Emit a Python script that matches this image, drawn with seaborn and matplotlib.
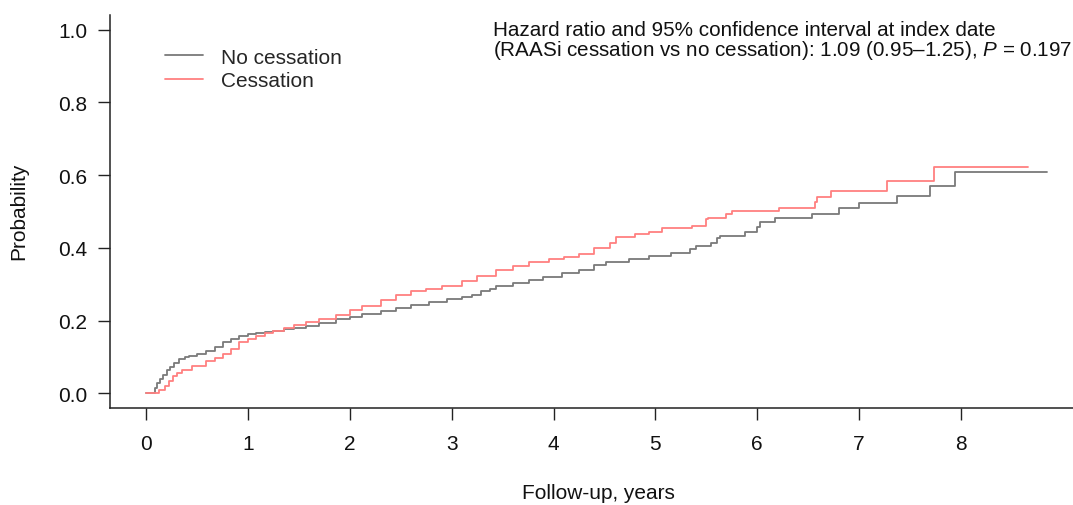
import matplotlib
matplotlib.use("Agg")
import matplotlib.pyplot as plt
import seaborn as sns
import pandas as pd
from matplotlib.lines import Line2D

# ---- data ----
no_cess_t = [0, 0.06, 0.08, 0.10, 0.13, 0.16, 0.20, 0.23, 0.27, 0.32, 0.38, 0.42, 0.50, 0.59,
             0.67, 0.75, 0.83, 0.91, 1.0, 1.08, 1.16, 1.24, 1.35, 1.45, 1.57, 1.70, 1.86, 2.0,
             2.12, 2.30, 2.45, 2.60, 2.78, 2.95, 3.10, 3.20, 3.29, 3.37, 3.43, 3.60, 3.76, 3.90,
             4.08, 4.25, 4.40, 4.51, 4.74, 4.94, 5.15, 5.34, 5.40, 5.55, 5.60, 5.63, 5.88, 6.0,
             6.03, 6.17, 6.54, 6.80, 7.0, 7.37, 7.70, 7.94, 8.85]
no_cess_p = [0, 0, 0.015, 0.027, 0.039, 0.05, 0.063, 0.072, 0.083, 0.094, 0.099, 0.102, 0.108, 0.116,
             0.127, 0.14, 0.149, 0.157, 0.162, 0.165, 0.168, 0.171, 0.176, 0.18, 0.185, 0.194, 0.204, 0.211,
             0.218, 0.226, 0.234, 0.242, 0.25, 0.258, 0.265, 0.27, 0.281, 0.288, 0.295, 0.303, 0.311, 0.320,
             0.332, 0.34, 0.352, 0.362, 0.369, 0.377, 0.385, 0.397, 0.405, 0.413, 0.427, 0.433, 0.443, 0.457,
             0.472, 0.482, 0.493, 0.51, 0.523, 0.543, 0.57, 0.609, 0.609]

cess_t = [0, 0.08, 0.12, 0.18, 0.22, 0.26, 0.30, 0.35, 0.45, 0.59, 0.67, 0.75, 0.83, 0.91, 1.0,
          1.08, 1.16, 1.24, 1.35, 1.45, 1.57, 1.70, 1.86, 2.0, 2.12, 2.30, 2.45, 2.60, 2.75, 2.90,
          3.10, 3.25, 3.43, 3.60, 3.76, 3.95, 4.10, 4.25, 4.40, 4.55, 4.61, 4.80, 4.94, 5.06, 5.36,
          5.50, 5.52, 5.69, 5.75, 6.21, 6.57, 6.59, 6.72, 7.27, 7.74, 8.66]
cess_p = [0, 0, 0.008, 0.019, 0.033, 0.047, 0.056, 0.063, 0.075, 0.088, 0.097, 0.107, 0.122, 0.14, 0.15,
          0.157, 0.165, 0.171, 0.18, 0.188, 0.196, 0.205, 0.216, 0.228, 0.24, 0.256, 0.27, 0.28, 0.288, 0.296,
          0.309, 0.322, 0.34, 0.35, 0.36, 0.368, 0.375, 0.383, 0.400, 0.412, 0.43, 0.437, 0.444, 0.454, 0.46,
          0.48, 0.483, 0.493, 0.50, 0.51, 0.526, 0.54, 0.556, 0.584, 0.622, 0.622]

groups = ["No cessation", "Cessation"]
colors = {"No cessation": "#7a7a7a", "Cessation": "#ff8080"}
x_ticks = [0, 1, 2, 3, 4, 5, 6, 7, 8]
y_ticks = [0.0, 0.2, 0.4, 0.6, 0.8, 1.0]
y_tick_labels = ["0.0", "0.2", "0.4", "0.6", "0.8", "1.0"]
x_label = "Follow-up, years"
y_label = "Probability"
annot_line1 = "Hazard ratio and 95% confidence interval at index date"
annot_line2 = "(RAASi cessation vs no cessation): 1.09 (0.95\u20131.25), $\\it{P}$ = 0.197"

df = pd.concat([
    pd.DataFrame({"t": no_cess_t, "p": no_cess_p, "group": groups[0]}),
    pd.DataFrame({"t": cess_t, "p": cess_p, "group": groups[1]}),
], ignore_index=True)

sns.set_style("ticks")
plt.rcParams["font.family"] = ["Liberation Sans", "DejaVu Sans"]
plt.rcParams["mathtext.fontset"] = "custom"
plt.rcParams["mathtext.rm"] = "Liberation Sans"
plt.rcParams["mathtext.it"] = "Liberation Sans:italic"

W, H = 1073, 506
fig = plt.figure(figsize=(W / 100, H / 100), dpi=100)
ax_left, ax_right, ax_top, ax_bot = 110.4, 1083.0, 16.0, 408.8
ax = fig.add_axes([ax_left / W, 1 - ax_bot / H, (ax_right - ax_left) / W, (ax_bot - ax_top) / H])

sns.lineplot(data=df, x="t", y="p", hue="group", palette=colors, hue_order=groups,
             estimator=None, sort=False, drawstyle="steps-post", linewidth=1.3,
             legend=False, ax=ax)

ax.set_xlim(-0.354, 9.2)
ax.set_ylim(-0.04, 1.04)
ax.set_xticks(x_ticks)
ax.set_xticklabels([str(v) for v in x_ticks])
ax.set_yticks(y_ticks)
ax.set_yticklabels(y_tick_labels)
for s in ["top", "right"]:
    ax.spines[s].set_visible(False)
for s in ["left", "bottom"]:
    ax.spines[s].set_linewidth(1.1)
    ax.spines[s].set_color("#222222")
ax.tick_params(axis="both", length=8.6, width=1.0, color="#222222", labelsize=15, labelcolor="#111111")
ax.tick_params(axis="x", pad=10.5)
ax.tick_params(axis="y", pad=8)

ax.set_xlabel(x_label, fontsize=15, va="center", color="#111111")
ax.xaxis.set_label_coords((598.7 - ax_left) / (ax_right - ax_left), (ax_bot - 494) / (ax_bot - ax_top))
ax.set_ylabel(y_label, fontsize=15, va="center", color="#111111")
ax.yaxis.set_label_coords((18.5 - ax_left) / (ax_right - ax_left), (ax_bot - 211) / (ax_bot - ax_top))

handles = [Line2D([], [], color=colors[g], lw=1.3) for g in groups]
fig.legend(handles, groups, loc="upper left", bbox_to_anchor=(165 / W, 1 - 48.5 / H),
           frameon=False, fontsize=15, handlelength=1.8, handletextpad=0.9,
           labelspacing=0.22, borderpad=0, borderaxespad=0)

fig.text(492.7 / W, 1 - 31 / H, annot_line1, fontsize=14.9, va="center", ha="left", color="#111111")
fig.text(492.7 / W, 1 - 50 / H, annot_line2, fontsize=14.9, va="center", ha="left", color="#111111")

fig.savefig("out.png", dpi=100)
